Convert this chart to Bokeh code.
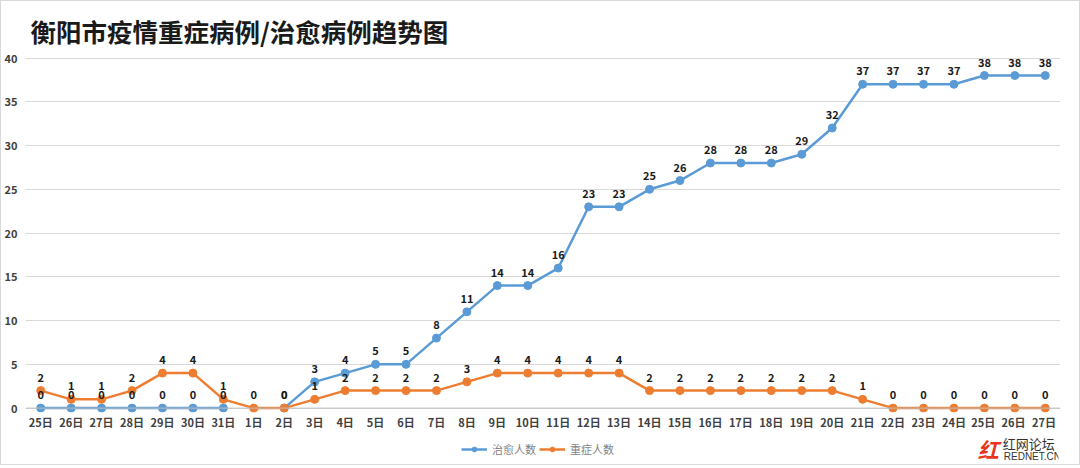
import math
from bokeh.plotting import figure
from bokeh.layouts import column
from bokeh.models import (FactorRange, Range1d, ColumnDataSource, Span, Legend, LegendItem,
                          SingleIntervalTicker)
from bokeh.core.properties import value
from bokeh.embed import file_html
from bokeh.resources import INLINE

days = ["25日", "26日", "27日", "28日", "29日", "30日", "31日",
        "1日", "2日", "3日", "4日", "5日", "6日", "7日", "8日", "9日", "10日",
        "11日", "12日", "13日", "14日", "15日", "16日", "17日", "18日", "19日", "20日",
        "21日", "22日", "23日", "24日", "25日 ", "26日 ", "27日 "]
cured = [0, 0, 0, 0, 0, 0, 0, float("nan"), 0,
         3, 4, 5, 5, 8, 11, 14, 14, 16, 23, 23, 25, 26, 28, 28, 28, 29, 32,
         37, 37, 37, 37, 38, 38, 38]
severe = [2, 1, 1, 2, 4, 4, 1, 0, 0,
          1, 2, 2, 2, 2, 3, 4, 4, 4, 4, 4, 2, 2, 2, 2, 2, 2, 2,
          1, 0, 0, 0, 0, 0, 0]
title_text = "衡阳市疫情重症病例/治愈病例趋势图"
series_names = ["治愈人数", "重症人数"]
brand_texts = ["红网论坛", "REDNET.CN"]
brand_mark = ["红"]

BLUE = "#5B9BD5"
ORANGE = "#ED7D31"
CJK = "Noto Sans CJK SC"
W = 1076

p = figure(frame_width=1035, frame_height=358, x_range=FactorRange(*days, range_padding=0),
           y_range=Range1d(-0.5, 40.4), output_backend="svg", toolbar_location=None,
           min_border_left=22, min_border_right=W - 1035 - 22, min_border_top=53,
           min_border_bottom=20)
p.outline_line_color = None

p.title.text = title_text
p.title.text_font = CJK
p.title.text_font_size = "25.5px"
p.title.text_font_style = "bold"
p.title.text_color = "#1a1a1a"
p.title.align = "left"
p.title.offset = 5
p.title.standoff = 12

p.xgrid.grid_line_color = None
p.ygrid.grid_line_color = "#D9D9D9"
p.ygrid.ticker = SingleIntervalTicker(interval=5)
p.yaxis.ticker = SingleIntervalTicker(interval=5)
for ax in (p.xaxis, p.yaxis):
    ax.axis_line_color = None
    ax.major_tick_line_color = None
    ax.minor_tick_line_color = None
    ax.major_tick_out = 0
    ax.minor_tick_out = 0
    ax.major_tick_in = 0
    ax.minor_tick_in = 0
    ax.major_label_text_font = CJK
    ax.major_label_text_font_size = "11px"
    ax.major_label_text_font_style = "bold"
    ax.major_label_text_color = "#404040"
p.yaxis.major_label_standoff = 8
p.xaxis.major_label_standoff = 1

p.add_layout(Span(location=0, dimension="width", line_color="#BFBFBF", line_width=1))

src = ColumnDataSource(dict(x=days, cured=cured, severe=severe))
p.line("x", "cured", source=src, line_color=BLUE, line_width=2.5)
p.scatter("x", "cured", source=src, size=8, fill_color=BLUE, line_color=BLUE)
p.line("x", "severe", source=src, line_color=ORANGE, line_width=2.5)
p.scatter("x", "severe", source=src, size=8, fill_color=ORANGE, line_color=ORANGE)

bx = [d for d, v in zip(days, cured) if not math.isnan(v)]
bv = [v for v in cured if not math.isnan(v)]
lab_b = ColumnDataSource(dict(x=bx, y=bv, t=[str(int(v)) for v in bv]))
lab_o = ColumnDataSource(dict(x=days, y=severe, t=[str(v) for v in severe]))
for s in (lab_b, lab_o):
    p.text("x", "y", text="t", source=s, text_align="center", text_baseline="bottom",
           y_offset=-9, text_font_size="11px", text_font_style="bold", text_color="#1a1a1a",
           text_font=value(CJK))

# footer with legend and brand mark
f = figure(width=W, height=32, x_range=Range1d(0, W), y_range=Range1d(0, 32),
           output_backend="svg", toolbar_location=None, x_axis_type=None, y_axis_type=None,
           min_border=0)
f.outline_line_color = None
f.grid.visible = False
dummy = ColumnDataSource(dict(x=[-100, -90], y=[-100, -100]))
l1 = f.line("x", "y", source=dummy, line_color=BLUE, line_width=2.5)
c1 = f.scatter("x", "y", source=dummy, size=7, fill_color=BLUE, line_color=BLUE)
l2 = f.line("x", "y", source=dummy, line_color=ORANGE, line_width=2.5)
c2 = f.scatter("x", "y", source=dummy, size=7, fill_color=ORANGE, line_color=ORANGE)
legend = Legend(items=[LegendItem(label=series_names[0], renderers=[l1, c1], index=0),
                       LegendItem(label=series_names[1], renderers=[l2, c2], index=0)],
                orientation="horizontal", location=(436, 7),
                border_line_color=None, background_fill_alpha=0,
                label_text_font=CJK, label_text_font_size="11px", label_text_color="#7f7f7f",
                glyph_width=26, glyph_height=12, label_standoff=5, spacing=3,
                padding=0, margin=0)
f.add_layout(legend)

f.text(x=[1018], y=[21], text=[brand_texts[0]], text_font_size="13px",
       text_color="#333333", text_baseline="middle", text_font=value(CJK))
f.text(x=[1019], y=[8], text=[brand_texts[1]], text_font_size="10px",
       text_color="#333333", text_baseline="middle", text_font=value("Liberation Sans"))
f.text(x=[992], y=[16], text=brand_mark, text_font_size="21px", text_font_style="bold italic",
       text_color="#E8351E", text_baseline="middle", text_font=value(CJK))

layout = column(p, f, spacing=0)
layout.styles = {"border": "1px solid #D9D9D9"}
open("out.html", "w").write(file_html(layout, INLINE))
